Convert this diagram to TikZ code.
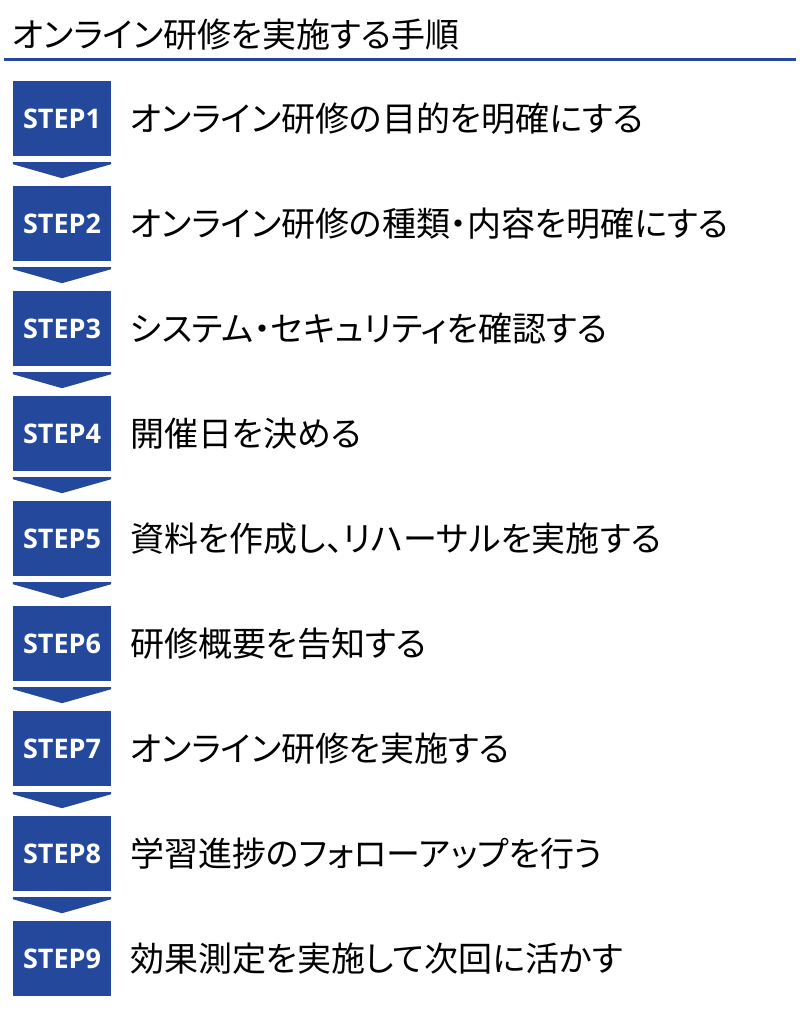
\documentclass[tikz,border=0pt]{standalone}
\usepackage{fontspec}
\setmainfont{Noto Sans CJK JP}
\newfontfamily\jpfont[RawFeature=+palt]{Noto Sans CJK JP}
\newfontfamily\labelfont{Open Sans}
\definecolor{stepblue}{RGB}{36,72,155}
\tikzset{
  stepbox/.style={fill=stepblue, minimum width=98pt, minimum height=75pt, inner sep=0pt,
    text=white, font=\labelfont\bfseries\fontsize{27}{30}\selectfont},
  steptext/.style={anchor=base west, inner sep=0pt, font=\jpfont\fontsize{34}{38}\selectfont},
}
\begin{document}
\begin{tikzpicture}[x=1pt,y=-1pt]
            \useasboundingbox (0,0) rectangle (800,1015);
            \node[steptext] (title) at (12,47) {オンライン研修を実施する手順};
            \coordinate (ruleL) at (4,59.5); \coordinate (ruleR) at (796,59.5);
            \draw[stepblue, line width=2.5pt] (ruleL) -- (ruleR);

            \node[stepbox] (step1) at (62,118.5) {STEP1};
            \node[stepbox] (step2) at (62,223.5) {STEP2};
            \node[stepbox] (step3) at (62,328.5) {STEP3};
            \node[stepbox] (step4) at (62,433.5) {STEP4};
            \node[stepbox] (step5) at (62,538.5) {STEP5};
            \node[stepbox] (step6) at (62,643.5) {STEP6};
            \node[stepbox] (step7) at (62,748.5) {STEP7};
            \node[stepbox] (step8) at (62,853.5) {STEP8};
            \node[stepbox] (step9) at (62,958.5) {STEP9};

            \node[steptext] (txt1) at (130,131.5) {オンライン研修の目的を明確にする};
            \node[steptext] (txt2) at (130,236.5) {オンライン研修の種類・内容を明確にする};
            \node[steptext] (txt3) at (130,341.5) {システム・セキュリティを確認する};
            \node[steptext] (txt4) at (130,446.5) {開催日を決める};
            \node[steptext] (txt5) at (130,551.5) {資料を作成し、リハーサルを実施する};
            \node[steptext] (txt6) at (130,656.5) {研修概要を告知する};
            \node[steptext] (txt7) at (130,761.5) {オンライン研修を実施する};
            \node[steptext] (txt8) at (130,866.5) {学習進捗のフォローアップを行う};
            \node[steptext] (txt9) at (130,971.5) {効果測定を実施して次回に活かす};

            % chevrons between the boxes
            \fill[stepblue] ([yshift=-6pt]step1.south west) -- ([yshift=-6pt]step1.south east) -- ([yshift=-8pt]step1.south east) -- ([yshift=-22pt]step1.south) -- ([yshift=-8pt]step1.south west) -- cycle;
            \fill[stepblue] ([yshift=-6pt]step2.south west) -- ([yshift=-6pt]step2.south east) -- ([yshift=-8pt]step2.south east) -- ([yshift=-22pt]step2.south) -- ([yshift=-8pt]step2.south west) -- cycle;
            \fill[stepblue] ([yshift=-6pt]step3.south west) -- ([yshift=-6pt]step3.south east) -- ([yshift=-8pt]step3.south east) -- ([yshift=-22pt]step3.south) -- ([yshift=-8pt]step3.south west) -- cycle;
            \fill[stepblue] ([yshift=-6pt]step4.south west) -- ([yshift=-6pt]step4.south east) -- ([yshift=-8pt]step4.south east) -- ([yshift=-22pt]step4.south) -- ([yshift=-8pt]step4.south west) -- cycle;
            \fill[stepblue] ([yshift=-6pt]step5.south west) -- ([yshift=-6pt]step5.south east) -- ([yshift=-8pt]step5.south east) -- ([yshift=-22pt]step5.south) -- ([yshift=-8pt]step5.south west) -- cycle;
            \fill[stepblue] ([yshift=-6pt]step6.south west) -- ([yshift=-6pt]step6.south east) -- ([yshift=-8pt]step6.south east) -- ([yshift=-22pt]step6.south) -- ([yshift=-8pt]step6.south west) -- cycle;
            \fill[stepblue] ([yshift=-6pt]step7.south west) -- ([yshift=-6pt]step7.south east) -- ([yshift=-8pt]step7.south east) -- ([yshift=-22pt]step7.south) -- ([yshift=-8pt]step7.south west) -- cycle;
            \fill[stepblue] ([yshift=-6pt]step8.south west) -- ([yshift=-6pt]step8.south east) -- ([yshift=-8pt]step8.south east) -- ([yshift=-22pt]step8.south) -- ([yshift=-8pt]step8.south west) -- cycle;
        \end{tikzpicture}
\end{document}
